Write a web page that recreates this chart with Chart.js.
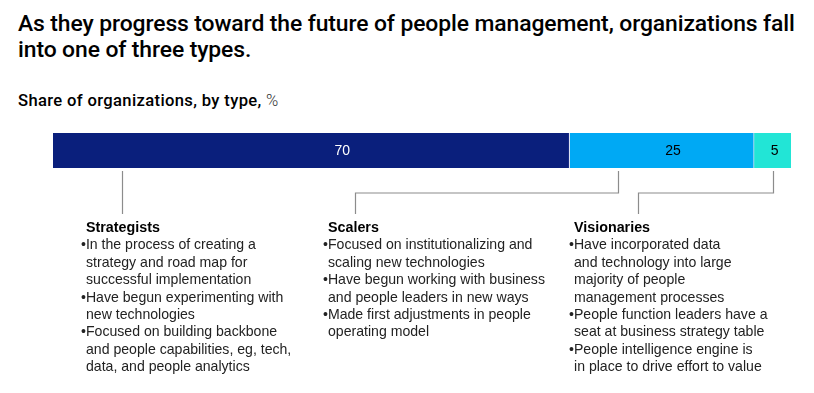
<!DOCTYPE html>
<html>
<head>
<meta charset="utf-8">
<script src="https://cdn.jsdelivr.net/npm/chart.js@4/dist/chart.umd.min.js"></script>
<style>
  body { margin: 0; background: #fff; width: 814px; height: 393px; position: relative; overflow: hidden; }
  #chart { position: absolute; left: 0; top: 0; }
  .title { position: absolute; left: 18px; top: 11px; font-family: Roboto, sans-serif; font-weight: 500; font-size: 22.9px; line-height: 26px; color: #000; letter-spacing: -0.1px; }
  .subtitle { position: absolute; left: 18px; top: 91px; font-family: Roboto, sans-serif; font-weight: 500; font-size: 16.6px; letter-spacing: 0.35px; color: #000; }
  .subtitle span { font-weight: 300; color: #333; }
  .block { position: absolute; top: 219px; font-family: "Liberation Sans", Arial, sans-serif; font-size: 14.1px; line-height: 17.4px; color: #222; }
  .block h4 { margin: 0; padding-left: 5px; font-size: 14.3px; font-weight: bold; color: #000; }
  .block ul { margin: 0; padding: 0; list-style: none; }
  .block li { padding-left: 5px; text-indent: -5px; }
</style>
</head>
<body>
<div class="title">As they progress toward the future of people management, organizations fall<br>into one of three types.</div>
<div class="subtitle">Share of organizations, by type, <span>%</span></div>
<canvas id="chart" width="814" height="393"></canvas>

<div class="block" style="left:81px">
  <h4>Strategists</h4>
  <ul>
    <li>•In the process of creating a<br>strategy and road map for<br>successful implementation</li>
    <li>•Have begun experimenting with<br>new technologies</li>
    <li>•Focused on building backbone<br>and people capabilities, eg, tech,<br>data, and people analytics</li>
  </ul>
</div>
<div class="block" style="left:323px">
  <h4>Scalers</h4>
  <ul>
    <li>•Focused on institutionalizing and<br>scaling new technologies</li>
    <li>•Have begun working with business<br>and people leaders in new ways</li>
    <li>•Made first adjustments in people<br>operating model</li>
  </ul>
</div>
<div class="block" style="left:569px">
  <h4>Visionaries</h4>
  <ul>
    <li>•Have incorporated data<br>and technology into large<br>majority of people<br>management processes</li>
    <li>•People function leaders have a<br>seat at business strategy table</li>
    <li>•People intelligence engine is<br>in place to drive effort to value</li>
  </ul>
</div>

<script>
// chart data
const types = ['Strategists', 'Scalers', 'Visionaries'];
const shares = [70, 25, 5];
const colors = ['#0a1f7c', '#00a9f4', '#22e5d6'];
const labelColors = ['#ffffff', '#000000', '#000000'];

// connector anchors, in % of the bar (start on the bar, end above the text)
const connectFrom = [9.4, 76.6, 97.5];
const connectTo = [9.4, 40.9, 79.3];

// write the value inside each segment
const segmentLabels = {
  id: 'segmentLabels',
  afterDatasetsDraw(chart) {
    const ctx = chart.ctx;
    ctx.save();
    ctx.font = '14px "Liberation Sans", Arial, sans-serif';
    ctx.textAlign = 'center';
    ctx.textBaseline = 'middle';
    chart.data.datasets.forEach((ds, i) => {
      const bar = chart.getDatasetMeta(i).data[0];
      const left = bar.base, right = bar.x;
      ctx.fillStyle = labelColors[i];
      ctx.fillText(ds.data[0], left + (right - left) * 0.56, bar.y + 1);
    });
    ctx.restore();
  }
};

// elbow lines from the bar down to each text block
const connectors = {
  id: 'connectors',
  afterDraw(chart) {
    const ctx = chart.ctx;
    const x = chart.scales.x;
    const top = chart.chartArea.bottom + 3;
    const elbow = top + 22;
    const end = top + 43;
    ctx.save();
    ctx.strokeStyle = '#8c8c8c';
    ctx.lineWidth = 1.2;
    connectFrom.forEach((v, i) => {
      const x1 = Math.round(x.getPixelForValue(v)) + 0.5;
      const x2 = Math.round(x.getPixelForValue(connectTo[i])) + 0.5;
      ctx.beginPath();
      ctx.moveTo(x1, top);
      if (x1 !== x2) {
        ctx.lineTo(x1, elbow);
        ctx.lineTo(x2, elbow);
      }
      ctx.lineTo(x2, end);
      ctx.stroke();
    });
    ctx.restore();
  }
};

new Chart(document.getElementById('chart'), {
  type: 'bar',
  data: {
    labels: ['Share'],
    datasets: types.map((t, i) => ({
      label: t,
      data: [shares[i]],
      backgroundColor: colors[i],
      borderColor: '#dfe3f3',
      borderWidth: { left: 0, top: 0, bottom: 0, right: i < types.length - 1 ? 1 : 0 },
      borderSkipped: false,
      barPercentage: 1,
      categoryPercentage: 1
    }))
  },
  options: {
    indexAxis: 'y',
    responsive: false,
    animation: false,
    layout: { padding: { left: 53, right: 23, top: 133, bottom: 225 } },
    plugins: { legend: { display: false }, tooltip: { enabled: false } },
    scales: {
      x: { stacked: true, min: 0, max: 100, display: false },
      y: { stacked: true, display: false }
    }
  },
  plugins: [segmentLabels, connectors]
});
</script>
</body>
</html>
